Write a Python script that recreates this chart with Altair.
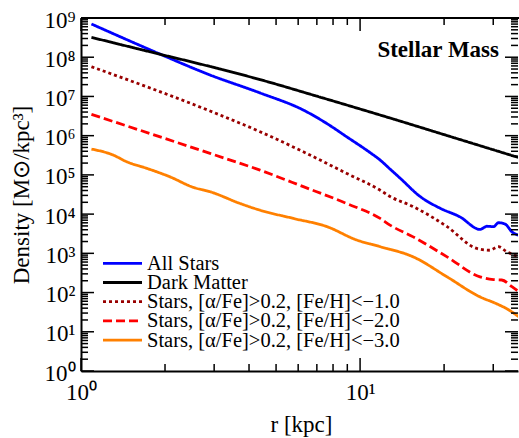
import json
import altair as alt
import pandas as pd

# ---------------- data ----------------
series_names = [
    "All Stars",
    "Dark Matter",
    "Stars, [α/Fe]>0.2, [Fe/H]<−1.0",
    "Stars, [α/Fe]>0.2, [Fe/H]<−2.0",
    "Stars, [α/Fe]>0.2, [Fe/H]<−3.0",
]
series_colors = ["#0000ff", "#000000", "#990000", "#ff0000", "#ff8000"]
series_dashes = [[1, 0], [1, 0], [3, 3], [9, 4], [1, 0]]

r_all = [1.09, 1.89, 2.9, 4.38, 6.26, 7.6, 8.96, 10.9, 11.8, 12.8, 13.9, 16.4,
         19.4, 22.8, 26.9, 28.5, 30.1, 31.3, 33.1, 35.0, 37.1]
rho_all = [7.03e8, 1.26e8, 3.52e7, 1.23e7, 4.50e6, 2.04e6, 9.33e5, 3.63e5, 2.39e5,
           1.41e5, 8.3e4, 2.82e4, 1.40e4, 8.5e3, 4.07e3, 4.9e3, 4.79e3, 6.03e3,
           5.56e3, 3.55e3, 2.88e3]

r_dm = [1.09, 1.77, 2.9, 4.38, 7.19, 12.8, 21.0, 37.1]
rho_dm = [3.21e8, 1.37e8, 5.8e7, 2.69e7, 9.6e6, 2.82e6, 9.55e5, 2.75e5]

r_fe1 = [1.09, 2.9, 4.38, 6.26, 8.96, 11.8, 12.8, 15.5, 20.5, 26.2, 29.2, 31.3, 33.5, 37.1]
rho_fe1 = [5.73e7, 4.25e6, 1.26e6, 3.88e5, 1.09e5, 4.07e4, 2.82e4, 1.55e4, 4.79e3,
           1.33e3, 1.20e3, 1.48e3, 1.10e3, 8.13e2]

r_fe2 = [1.09, 2.9, 4.38, 6.26, 8.96, 11.8, 12.8, 15.5, 20.5, 26.9, 30.1, 32.2, 35.0, 37.1]
rho_fe2 = [3.49e6, 3.53e5, 1.32e5, 5.01e4, 1.86e4, 7.76e3, 5.25e3, 2.63e3, 8.13e2,
           2.51e2, 2.14e2, 2.09e2, 1.41e2, 1.05e2]

r_fe3 = [1.09, 1.305, 1.458, 1.72, 2.084, 2.53, 2.9, 3.72, 4.38, 5.77, 7.61, 9.72,
         11.8, 15.5, 20.5, 26.9, 30.7, 33.5, 37.1]
rho_fe3 = [4.55e5, 3.20e5, 2.16e5, 1.47e5, 8.91e4, 4.79e4, 3.72e4, 1.86e4, 1.26e4,
           7.76e3, 4.79e3, 2.19e3, 1.48e3, 8.13e2, 2.51e2, 77.6, 52.5, 38.9, 24.0]

x_tick_values = [1, 10]
x_tick_labels = ["10⁰", "10¹"]
x_minor_ticks = [2, 3, 4, 5, 6, 7, 8, 9, 20, 30]
y_tick_values = [1, 10, 100, 1e3, 1e4, 1e5, 1e6, 1e7, 1e8, 1e9]
y_tick_labels = ["10⁰", "10¹", "10²", "10³", "10⁴", "10⁵", "10⁶", "10⁷", "10⁸", "10⁹"]
y_minor_ticks = [k * v for v in y_tick_values[:-1] for k in range(2, 10)]

title_text = "Stellar Mass"
x_title = "r [kpc]"
y_title = "Density [M⊙/kpc³]"

# ---------------- layout ----------------
W, H = 437, 353
FONT = "Liberation Serif"
MAJ, MIN = 13, 7

rows = []
for name, rs, vs in zip(series_names, [r_all, r_dm, r_fe1, r_fe2, r_fe3],
                        [rho_all, rho_dm, rho_fe1, rho_fe2, rho_fe3]):
    for r, v in zip(rs, vs):
        rows.append({"series": name, "r": r, "density": v})
df = pd.DataFrame(rows)

xs = alt.Scale(type="log", domain=[1, 36.8], nice=False)
ys = alt.Scale(type="log", domain=[1, 1e9], nice=False)


def label_expr(values, labels):
    return "{}[indexof({}, datum.value)]".format(
        json.dumps(labels, ensure_ascii=False), json.dumps(values))


x_axis = alt.Axis(
    values=x_tick_values, labelExpr=label_expr(x_tick_values, x_tick_labels),
    ticks=False, tickSize=0, grid=False, domain=True, domainColor="black",
    domainWidth=2, labelFont=FONT, labelFontSize=23, labelColor="black",
    labelPadding=28, labelBaseline="alphabetic", labelFlush=False, labelOverlap=False,
    title=x_title, titleFont=FONT, titleFontSize=23, titleFontWeight="normal",
    titleColor="black", titleX=220, titleY=60, titleBaseline="alphabetic",
    titleAlign="center")

y_axis = alt.Axis(
    values=y_tick_values, labelExpr=label_expr(y_tick_values, y_tick_labels),
    ticks=False, tickSize=0, grid=False, domain=True, domainColor="black",
    domainWidth=2, labelFont=FONT, labelFontSize=23, labelColor="black",
    labelPadding=6, labelBaseline="alphabetic", labelOffset=9, labelFlush=False,
    labelOverlap=False,
    title=y_title, titleFont=FONT, titleFontSize=23, titleFontWeight="normal",
    titleColor="black", titleX=-53, titleY=H / 2, titleAngle=-90,
    titleBaseline="alphabetic", titleAlign="center")

X = alt.X("r:Q", scale=xs, axis=x_axis)
Y = alt.Y("density:Q", scale=ys, axis=y_axis)

lines = alt.Chart(df).mark_line(clip=True, strokeWidth=2.8, strokeCap="butt",
                                interpolate="monotone").encode(
    x=X,
    y=Y,
    color=alt.Color("series:N", scale=alt.Scale(domain=series_names, range=series_colors), legend=None),
    strokeDash=alt.StrokeDash("series:N", scale=alt.Scale(domain=series_names, range=series_dashes), legend=None),
    detail="series:N",
    order=alt.Order("r:Q"),
)


def xticks(vals, length, side):
    d = pd.DataFrame({"r": vals})
    y0, y1 = (H, H - length) if side == "bottom" else (0, length)
    return alt.Chart(d).mark_rule(color="black", strokeWidth=1.5).encode(
        x=X, y=alt.value(y0), y2=alt.value(y1))


def yticks(vals, length, side):
    d = pd.DataFrame({"density": vals})
    x0, x1 = (0, length) if side == "left" else (W - length, W)
    return alt.Chart(d).mark_rule(color="black", strokeWidth=1.5).encode(
        y=Y, x=alt.value(x0), x2=alt.value(x1))


ticks = [
    xticks(x_minor_ticks, MIN, "bottom"), xticks(x_tick_values, MAJ, "bottom"),
    xticks(x_minor_ticks, MIN, "top"), xticks(x_tick_values, MAJ, "top"),
    yticks(y_minor_ticks, MIN, "left"), yticks(y_tick_values, MAJ, "left"),
    yticks(y_minor_ticks, MIN, "right"), yticks(y_tick_values, MAJ, "right"),
]

one = pd.DataFrame({"t": [title_text]})
top_border = alt.Chart(one).mark_rule(color="black", strokeWidth=2).encode(
    x=alt.value(0), x2=alt.value(W + 2), y=alt.value(0))

title_mark = alt.Chart(one).mark_text(
    font=FONT, fontSize=23, fontWeight="bold", align="right", baseline="alphabetic",
    color="black").encode(x=alt.value(418), y=alt.value(39), text="t:N")

legend_layers = []
for i, (name, col, dash) in enumerate(zip(series_names, series_colors, series_dashes)):
    yy = 245.3 + 19.2 * i
    d = pd.DataFrame({"label": [name]})
    legend_layers.append(
        alt.Chart(d).mark_rule(color=col, strokeWidth=2.8, strokeDash=dash, strokeCap="butt").encode(
            x=alt.value(22), x2=alt.value(61), y=alt.value(yy)))
    legend_layers.append(
        alt.Chart(d).mark_text(font=FONT, fontSize=20.5, align="left", baseline="alphabetic",
                               color="black").encode(
            x=alt.value(66), y=alt.value(yy + 6.5), text="label:N"))

chart = alt.layer(lines, *ticks, top_border, title_mark, *legend_layers).properties(
    width=W, height=H, autosize="none",
    padding={"left": 81, "top": 18, "right": 1, "bottom": 67},
    background="white",
).configure_view(stroke=None)

chart.save("out.html", embed_options={"renderer": "svg", "actions": False})
